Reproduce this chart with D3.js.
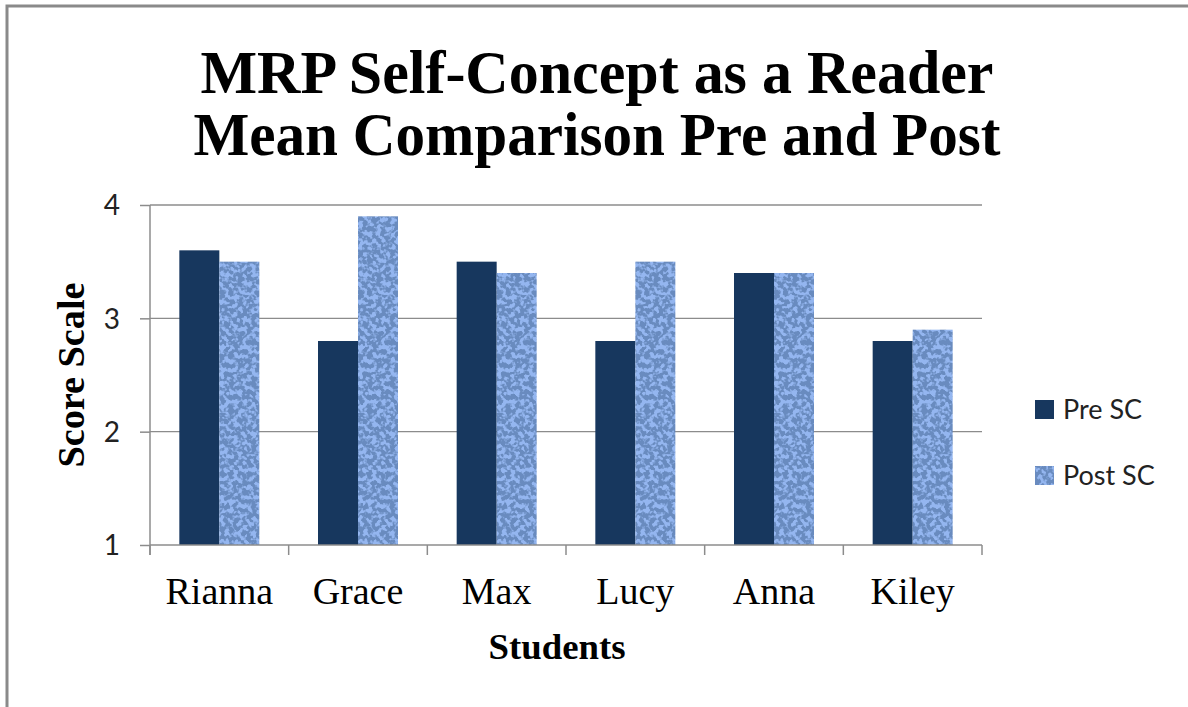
<!DOCTYPE html>
<html lang="en">
<head>
<meta charset="UTF-8">
<title>MRP Self-Concept as a Reader</title>
<script src="https://d3js.org/d3.v7.min.js"></script>
<style>
    body { margin: 0; background: #fff; }
    .grid line { stroke: #8c8c8c; stroke-width: 1.3px; }
    .axis path, .axis line { stroke: #8c8c8c; stroke-width: 1.5px; }
</style>
</head>
<body>
<svg width="1188" height="707"></svg>
<script>
    const students = ["Rianna", "Grace", "Max", "Lucy", "Anna", "Kiley"];
    const preSC = [3.6, 2.8, 3.5, 2.8, 3.4, 2.8];
    const postSC = [3.5, 3.9, 3.4, 3.5, 3.4, 2.9];
    const seriesNames = ["Pre SC", "Post SC"];
    const yTicks = [1, 2, 3, 4];

    const svg = d3.select("svg");
    const plotL = 150, plotR = 982, plotT = 205, plotB = 545;

    // texture for the Post SC bars
    const defs = svg.append("defs");
    const f = defs.append("filter").attr("id", "tex")
        .attr("x", 0).attr("y", 0).attr("width", 1).attr("height", 1);
    f.append("feTurbulence").attr("type", "fractalNoise")
        .attr("baseFrequency", 0.22).attr("numOctaves", 2).attr("seed", 7).attr("result", "n");
    f.append("feColorMatrix").attr("in", "n").attr("type", "matrix")
        .attr("values", "0 0 0 0 0.14  0 0 0 0 0.26  0 0 0 0 0.52  7 0 0 0 -2.8")
        .attr("result", "dark");
    f.append("feComposite").attr("in", "dark").attr("in2", "SourceGraphic")
        .attr("operator", "atop");

    // outer frame
    svg.append("path")
        .attr("d", "M7,707 V6 H1188")
        .attr("fill", "none").attr("stroke", "#8a8a8a").attr("stroke-width", 3);

    const x0 = d3.scaleBand().domain(students).range([plotL, plotR]);
    const groupW = 80;
    const x1 = d3.scaleBand().domain(seriesNames).range([0, groupW]);
    const y = d3.scaleLinear().domain([1, 4]).range([plotB, plotT]);

    // gridlines
    svg.append("g").attr("class", "grid")
        .selectAll("line").data(yTicks.slice(1)).enter().append("line")
        .attr("x1", plotL).attr("x2", plotR)
        .attr("y1", d => y(d)).attr("y2", d => y(d));

    const data = students.map((s, i) => ({ name: s, values: [preSC[i], postSC[i]] }));
    const colors = ["#17375e", "#94b6f0"];

    const groups = svg.append("g").selectAll("g").data(data).enter().append("g")
        .attr("transform", d => `translate(${x0(d.name) + (x0.bandwidth() - groupW) / 2},0)`);
    groups.selectAll("rect")
        .data(d => d.values.map((v, j) => ({ key: seriesNames[j], v, j })))
        .enter().append("rect")
        .attr("x", d => x1(d.key))
        .attr("width", x1.bandwidth())
        .attr("y", d => y(d.v))
        .attr("height", d => plotB - y(d.v))
        .attr("fill", d => colors[d.j])
        .attr("filter", d => d.j === 1 ? "url(#tex)" : null);

    // y axis
    const yAxis = svg.append("g").attr("class", "axis")
        .attr("transform", `translate(${plotL},0)`)
        .call(d3.axisLeft(y).tickValues(yTicks).tickFormat(d3.format("d")).tickSize(10).tickSizeOuter(0));
    yAxis.select(".domain").remove();
    yAxis.append("line").attr("x1", 0).attr("x2", 0).attr("y1", plotT).attr("y2", plotB + 10);
    yAxis.selectAll("text")
        .attr("font-family", "Lato, 'Open Sans', sans-serif")
        .attr("font-size", 28).attr("fill", "#222").attr("x", -30).attr("dy", "0.35em");

    // x axis
    const xAxis = svg.append("g").attr("class", "axis")
        .attr("transform", `translate(0,${plotB})`);
    xAxis.append("line").attr("x1", plotL).attr("x2", plotR).attr("y1", 0).attr("y2", 0);
    xAxis.selectAll(".tk").data(students.concat(["end"])).enter().append("line")
        .attr("x1", (d, i) => plotL + i * x0.bandwidth())
        .attr("x2", (d, i) => plotL + i * x0.bandwidth())
        .attr("y1", 0).attr("y2", 10);
    xAxis.selectAll("text").data(students).enter().append("text")
        .attr("x", d => x0(d) + x0.bandwidth() / 2)
        .attr("y", 59)
        .attr("text-anchor", "middle")
        .attr("font-family", "'Liberation Serif', 'Times New Roman', serif")
        .attr("font-size", 38)
        .text(d => d);

    // title
    const title = ["MRP Self-Concept as a Reader", "Mean Comparison Pre and Post"];
    const tW = [793, 807];
    svg.append("g").selectAll("text").data(title).enter().append("text")
        .attr("x", (d, i) => 597 - tW[i] / 2)
        .attr("y", (d, i) => 93 + i * 62)
        .attr("textLength", (d, i) => tW[i])
        .attr("lengthAdjust", "spacingAndGlyphs")
        .attr("font-family", "'Liberation Serif', 'Times New Roman', serif")
        .attr("font-weight", "bold")
        .attr("font-size", 61)
        .text(d => d);

    // axis titles
    svg.append("text")
        .attr("transform", "translate(84,375) rotate(-90)")
        .attr("text-anchor", "middle")
        .attr("textLength", 185).attr("lengthAdjust", "spacingAndGlyphs")
        .attr("font-family", "'Liberation Serif', 'Times New Roman', serif")
        .attr("font-weight", "bold").attr("font-size", 38)
        .text("Score Scale");
    svg.append("text")
        .attr("x", 557).attr("y", 659)
        .attr("text-anchor", "middle")
        .attr("textLength", 137).attr("lengthAdjust", "spacingAndGlyphs")
        .attr("font-family", "'Liberation Serif', 'Times New Roman', serif")
        .attr("font-weight", "bold").attr("font-size", 35)
        .text("Students");

    // legend
    const leg = svg.append("g").selectAll("g").data(seriesNames).enter().append("g")
        .attr("transform", (d, i) => `translate(1035,${400 + i * 66})`);
    leg.append("rect").attr("width", 19).attr("height", 19)
        .attr("fill", (d, i) => colors[i])
        .attr("filter", (d, i) => i === 1 ? "url(#tex)" : null);
    leg.append("text").attr("x", 28).attr("y", 19)
        .attr("font-family", "Lato, 'Open Sans', sans-serif")
        .attr("font-size", 27).attr("fill", "#222")
        .text(d => d);
</script>
</body>
</html>
